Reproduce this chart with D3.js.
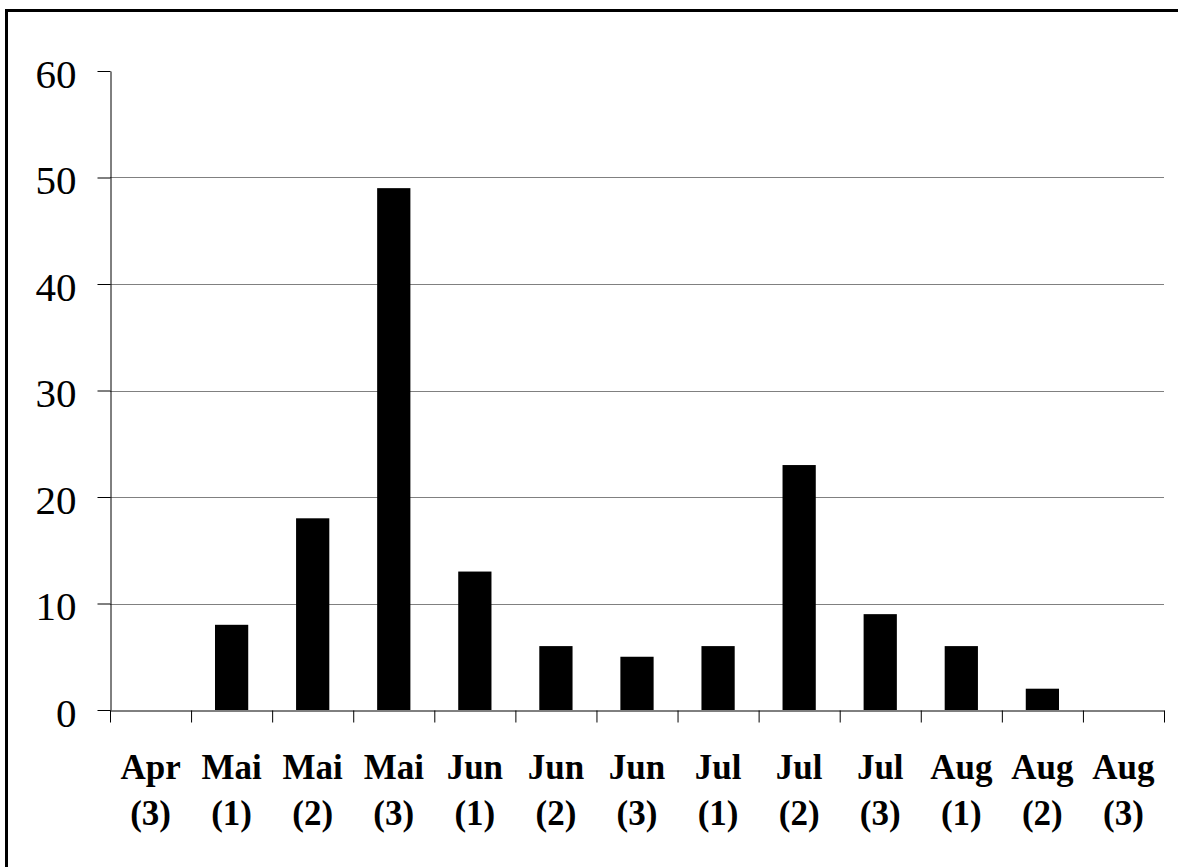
<!DOCTYPE html>
<html>
<head>
<meta charset="utf-8">
<title>Bar chart</title>
<script src="https://d3js.org/d3.v7.min.js"></script>
<style>
  html, body { margin: 0; background: #fff; overflow: hidden; }
  svg { display: block; }
  text { font-family: "Liberation Serif", "Times New Roman", serif; }
</style>
</head>
<body>
<script>
  const width = 1178;
  const height = 867;

  const months = ["Apr", "Mai", "Mai", "Mai", "Jun", "Jun", "Jun", "Jul", "Jul", "Jul", "Aug", "Aug", "Aug"];
  const parts = ["(3)", "(1)", "(2)", "(3)", "(1)", "(2)", "(3)", "(1)", "(2)", "(3)", "(1)", "(2)", "(3)"];
  const values = [0, 8, 18, 49, 13, 6, 5, 6, 23, 9, 6, 2, 0];
  const yTicks = [0, 10, 20, 30, 40, 50, 60];

  const data = values.map((v, i) => ({ key: i, month: months[i], part: parts[i], value: v }));

  const margin = { left: 110, right: 14, top: 71, bottom: 157 };

  const svg = d3.select("body").append("svg")
    .attr("width", width)
    .attr("height", height);

  // outer frame: only top and left edges are in the picture
  svg.append("path")
    .attr("d", `M6.5,${height}V10.5H${width}`)
    .attr("fill", "none")
    .attr("stroke", "#000")
    .attr("stroke-width", 3);

  const x = d3.scaleBand()
    .domain(data.map(d => d.key))
    .range([margin.left, width - margin.right])
    .paddingInner(0.59)
    .paddingOuter(0.295);

  const xs = d3.scaleLinear()
    .domain([0, data.length])
    .range([margin.left, width - margin.right]);

  const y = d3.scaleLinear()
    .domain([0, 60])
    .range([height - margin.bottom, margin.top]);

  // gridlines
  svg.append("g")
    .selectAll("line")
    .data(yTicks.filter(t => t > 0 && t < 60))
    .join("line")
    .attr("x1", margin.left).attr("x2", width - margin.right)
    .attr("y1", d => Math.round(y(d)) + 0.5)
    .attr("y2", d => Math.round(y(d)) + 0.5)
    .attr("stroke", "#808080")
    .attr("stroke-width", 1);

  // bars
  svg.append("g")
    .selectAll("rect")
    .data(data.filter(d => d.value > 0))
    .join("rect")
    .attr("x", d => x(d.key))
    .attr("width", x.bandwidth())
    .attr("y", d => y(d.value))
    .attr("height", d => y(0) - y(d.value))
    .attr("fill", "#000");

  // y axis
  const yAxis = svg.append("g")
    .attr("transform", `translate(${margin.left + 0.5},0)`)
    .call(d3.axisLeft(y).tickValues(yTicks).tickSize(13).tickPadding(21).tickSizeOuter(0));
  yAxis.select(".domain").attr("stroke", "#000");
  yAxis.selectAll(".tick line").attr("stroke", "#000");
  yAxis.selectAll(".tick text")
    .attr("font-size", 41)
    .attr("fill", "#000")
    .attr("dy", "0.4em");

  // x axis: line with ticks at category boundaries
  const xAxis = svg.append("g")
    .attr("transform", `translate(0,${Math.round(y(0)) + 0.5})`)
    .call(d3.axisBottom(xs).tickValues(d3.range(0, data.length + 1)).tickSize(12).tickSizeOuter(0).tickFormat(""));
  xAxis.select(".domain").attr("stroke", "#000");
  xAxis.selectAll(".tick line").attr("stroke", "#000");

  // category labels
  const labels = svg.append("g")
    .selectAll("text")
    .data(data)
    .join("text")
    .attr("x", d => x(d.key) + x.bandwidth() / 2)
    .attr("text-anchor", "middle")
    .attr("font-size", 35)
    .attr("font-weight", "bold")
    .attr("fill", "#000");
  labels.append("tspan")
    .attr("x", d => x(d.key) + x.bandwidth() / 2)
    .attr("y", 779)
    .text(d => d.month);
  labels.append("tspan")
    .attr("x", d => x(d.key) + x.bandwidth() / 2)
    .attr("y", 825)
    .text(d => d.part);
</script>
</body>
</html>
